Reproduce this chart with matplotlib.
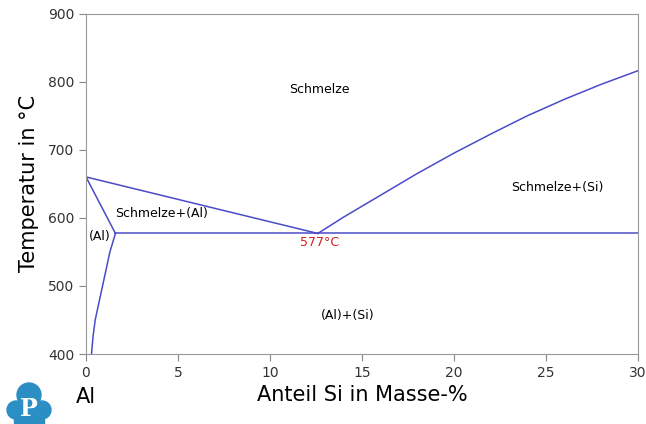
import matplotlib.pyplot as plt
from matplotlib.patches import Circle, Rectangle

# Al-Si Phasendiagramm
liq_al_x = [0, 12.6]
liq_al_t = [660, 577]
liq_si_x = [12.6, 14, 16, 18, 20, 22, 24, 26, 28, 30]
liq_si_t = [577, 601, 633, 665, 695, 723, 750, 774, 796, 816]
eut_x = [1.6, 30]
eut_t = [577, 577]
sol_x = [0, 1.6]
sol_t = [660, 577]
solvus_x = [1.6, 1.3, 1.1, 0.9, 0.7, 0.5, 0.38, 0.3]
solvus_t = [577, 550, 525, 500, 475, 450, 425, 400]

blau = "#4b4bc8"

fig = plt.figure(figsize=(6.46, 4.24), dpi=100)
ax = fig.add_axes([86/646, 70/424, 552/646, 340.5/424])

for xs, ts in [(liq_al_x, liq_al_t), (liq_si_x, liq_si_t), (eut_x, eut_t),
               (sol_x, sol_t), (solvus_x, solvus_t)]:
    ax.plot(xs, ts, color=blau, lw=1.1)

ax.set_xlim(0, 30)
ax.set_ylim(400, 900)
ax.set_xticks([0, 5, 10, 15, 20, 25, 30])
ax.set_yticks([400, 500, 600, 700, 800, 900])
ax.tick_params(direction="out", length=5, color="#888888", labelsize=10,
               labelcolor="#333333")
for s in ax.spines.values():
    s.set_color("#999999")

ax.set_ylabel("Temperatur in °C", fontsize=15, labelpad=6)
ax.set_xlabel("Anteil Si in Masse-%", fontsize=15, labelpad=4)

ax.text(12.7, 789, "Schmelze", fontsize=9, ha="center", va="center")
ax.text(4.1, 606, "Schmelze+(Al)", fontsize=9, ha="center", va="center")
ax.text(0.75, 573, "(Al)", fontsize=9, ha="center", va="center")
ax.text(12.7, 564, "577°C", fontsize=9, ha="center", va="center", color="#d02020")
ax.text(25.6, 644, "Schmelze+(Si)", fontsize=9, ha="center", va="center")
ax.text(14.2, 457, "(Al)+(Si)", fontsize=9, ha="center", va="center")

fig.text(86/646, 1 - 397/424, "Al", fontsize=15, ha="center", va="center")

# Logo (Wolke mit P), in Pixeln -> Zoll
logo = "#2b8fc4"
tr = fig.dpi_scale_trans
for cx, cy, r in [(29, 395, 12), (16, 410, 9), (42, 410, 9), (29, 411, 13)]:
    fig.patches.append(Circle((cx/100, (424 - cy)/100), r/100, transform=tr,
                              color=logo, zorder=0))
fig.patches.append(Rectangle((14/100, 0), 30/100, 12/100, transform=tr,
                             color=logo, zorder=0))
fig.text(29/646, 1 - 409/424, "P", fontsize=17, fontweight="bold", color="white",
         family="DejaVu Serif", ha="center", va="center")

fig.savefig("out.png", dpi=100)
